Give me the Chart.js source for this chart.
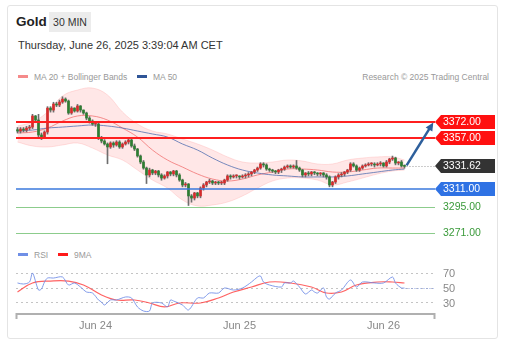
<!DOCTYPE html>
<html lang="en">
<head>
<meta charset="UTF-8">
<title>Gold | 30 MIN</title>
<script src="https://cdn.jsdelivr.net/npm/chart.js"></script>
<style>
  body { margin:0; width:509px; height:351px; background:#fff; position:relative; overflow:hidden;
         font-family:"Liberation Sans", Arial, sans-serif; }
  .card { position:absolute; left:7px; top:5px; width:489px; height:332px; border:1px solid #e4e4e4; border-radius:3px; }
  .abs { position:absolute; white-space:nowrap; }
  .title { left:16px; top:14px; font-size:13.5px; font-weight:bold; color:#222; }
  .tf { left:49px; top:12px; width:42px; height:20px; line-height:20px; text-align:center; font-size:10.5px; color:#333; background:#ececec; }
  .date { left:18px; top:39px; font-size:11px; color:#333; }
  .leg { font-size:8.5px; color:#999; line-height:11px; }
  .sw { display:inline-block; width:10px; height:3px; vertical-align:middle; margin-right:6px; position:relative; top:-1px; }
  #price { position:absolute; left:0; top:80px; }
  #rsi { position:absolute; left:0; top:258px; }
</style>
</head>
<body>
<div class="card"></div>
<div class="abs title">Gold</div>
<div class="abs tf">30 MIN</div>
<div class="abs date">Thursday, June 26, 2025 3:39:04 AM CET</div>

<div class="abs leg" style="left:18px; top:72px;"><span class="sw" style="background:#f58a8a"></span>MA 20 + Bollinger Bands</div>
<div class="abs leg" style="left:137px; top:72px;"><span class="sw" style="background:#2f5597"></span>MA 50</div>
<div class="abs leg" style="right:20px; top:72px;">Research © 2025 Trading Central</div>

<div class="abs leg" style="left:18px; top:250px;"><span class="sw" style="background:#6f8fe6"></span>RSI</div>
<div class="abs leg" style="left:58px; top:250px;"><span class="sw" style="background:#ff1a1a"></span>9MA</div>

<canvas id="price" width="509" height="165"></canvas>
<canvas id="rsi" width="509" height="80"></canvas>

<script>
// 30 min candles, index 0 = Jun 23 ~11:00, 48 candles per day
const opens = [
  3365.0, 3363.8, 3365.6, 3364.7, 3366.5, 3367.4, 3377.5, 3373.8, 3360.2, 3358.3,
  3362.9, 3384.7, 3382.9, 3388.4, 3387.5, 3390.2, 3392.9, 3391.1, 3380.2, 3384.7,
  3382.0, 3386.6, 3382.9, 3380.2, 3375.6, 3372.9, 3370.2, 3370.2, 3357.4, 3354.7,
  3352.0, 3349.3, 3352.9, 3351.1, 3353.8, 3349.3, 3352.0, 3353.8, 3355.6, 3350.2,
  3347.4, 3341.1, 3335.6, 3330.1, 3323.8, 3328.3, 3325.6, 3327.4, 3323.8, 3321.0,
  3322.9, 3326.5, 3324.7, 3327.4, 3323.8, 3319.2, 3314.7, 3315.6, 3304.7, 3302.8,
  3307.4, 3304.7, 3311.9, 3314.7, 3317.4, 3318.3, 3316.5, 3317.4, 3316.5, 3316.5,
  3319.2, 3322.9, 3322.0, 3322.9, 3322.9, 3322.0, 3322.9, 3323.8, 3324.7, 3326.5,
  3328.3, 3330.1, 3333.8, 3332.9, 3329.2, 3328.3, 3327.4, 3326.5, 3328.3, 3329.2,
  3331.0, 3332.0, 3331.0, 3332.0, 3330.1, 3328.3, 3323.8, 3325.6, 3324.7, 3326.5,
  3325.6, 3324.7, 3325.6, 3323.8, 3322.0, 3314.7, 3317.4, 3322.0, 3323.8, 3324.7,
  3326.5, 3328.3, 3333.8, 3332.0, 3328.3, 3330.1, 3332.0, 3332.9, 3333.8, 3333.8,
  3332.9, 3333.8, 3334.7, 3332.0, 3335.6, 3338.3, 3339.2, 3334.7, 3335.6, 3332.0
];
const highs = [
  3367, 3367, 3367, 3368, 3369, 3379, 3378, 3379, 3362, 3364,
  3386, 3386, 3390, 3390, 3392, 3395, 3394, 3392, 3386, 3385,
  3388, 3387, 3383, 3381, 3377, 3374, 3372, 3371, 3359, 3356,
  3353, 3354, 3354, 3355, 3355, 3353, 3355, 3357, 3357, 3352,
  3348, 3342, 3337, 3331, 3330, 3329, 3328, 3328, 3325, 3324,
  3327, 3327, 3328, 3328, 3325, 3320, 3317, 3316, 3306, 3308,
  3308, 3313, 3316, 3318, 3320, 3319, 3318, 3318, 3318, 3320,
  3324, 3324, 3324, 3324, 3323, 3324, 3325, 3326, 3327, 3329,
  3331, 3335, 3335, 3334, 3330, 3329, 3328, 3329, 3330, 3332,
  3333, 3333, 3333, 3337, 3331, 3329, 3326, 3327, 3327, 3327,
  3326, 3326, 3326, 3325, 3323, 3318, 3323, 3325, 3326, 3327,
  3329, 3335, 3335, 3333, 3331, 3333, 3334, 3335, 3335, 3335,
  3335, 3336, 3335, 3337, 3339, 3341, 3340, 3336, 3337, 3333
];
const lows = [
  3362, 3362, 3363, 3363, 3365, 3366, 3372, 3358, 3356, 3357,
  3361, 3381, 3381, 3386, 3386, 3389, 3390, 3379, 3379, 3381,
  3381, 3381, 3379, 3374, 3371, 3369, 3368, 3356, 3353, 3351,
  3334, 3348, 3349, 3350, 3348, 3348, 3351, 3352, 3349, 3346,
  3340, 3334, 3329, 3316, 3322, 3324, 3324, 3322, 3319, 3320,
  3321, 3323, 3323, 3322, 3318, 3313, 3313, 3296, 3299, 3301,
  3303, 3303, 3310, 3313, 3316, 3315, 3315, 3315, 3315, 3315,
  3318, 3320, 3321, 3321, 3320, 3321, 3321, 3322, 3323, 3325,
  3327, 3329, 3331, 3328, 3327, 3326, 3325, 3325, 3326, 3328,
  3330, 3330, 3330, 3329, 3327, 3322, 3322, 3323, 3323, 3324,
  3323, 3323, 3322, 3320, 3313, 3313, 3316, 3320, 3322, 3323,
  3325, 3327, 3331, 3327, 3327, 3329, 3331, 3332, 3332, 3331,
  3332, 3332, 3331, 3331, 3334, 3337, 3333, 3333, 3331, 3330
];
const closes = [
  3363.8, 3365.6, 3364.7, 3366.5, 3367.4, 3377.5, 3373.8, 3360.2, 3358.3, 3362.9,
  3384.7, 3382.9, 3388.4, 3387.5, 3390.2, 3392.9, 3391.1, 3380.2, 3384.7, 3382.0,
  3386.6, 3382.9, 3380.2, 3375.6, 3372.9, 3370.2, 3370.2, 3357.4, 3354.7, 3352.0,
  3349.3, 3352.9, 3351.1, 3353.8, 3349.3, 3352.0, 3353.8, 3355.6, 3350.2, 3347.4,
  3341.1, 3335.6, 3330.1, 3323.8, 3328.3, 3325.6, 3327.4, 3323.8, 3321.0, 3322.9,
  3326.5, 3324.7, 3327.4, 3323.8, 3319.2, 3314.7, 3315.6, 3304.7, 3302.8, 3307.4,
  3304.7, 3311.9, 3314.7, 3317.4, 3318.3, 3316.5, 3317.4, 3316.5, 3316.5, 3319.2,
  3322.9, 3322.0, 3322.9, 3322.9, 3322.0, 3322.9, 3323.8, 3324.7, 3326.5, 3328.3,
  3330.1, 3333.8, 3332.9, 3329.2, 3328.3, 3327.4, 3326.5, 3328.3, 3329.2, 3331.0,
  3332.0, 3331.0, 3332.0, 3330.1, 3328.3, 3323.8, 3325.6, 3324.7, 3326.5, 3325.6,
  3324.7, 3325.6, 3323.8, 3322.0, 3314.7, 3317.4, 3322.0, 3323.8, 3324.7, 3326.5,
  3328.3, 3333.8, 3332.0, 3328.3, 3330.1, 3332.0, 3332.9, 3333.8, 3333.8, 3332.9,
  3333.8, 3334.7, 3332.0, 3335.6, 3338.3, 3339.2, 3334.7, 3335.6, 3332.0, 3331.62
];

// indicators read every 5 candles
const bandIdx = [0, 5, 10, 15, 20, 25, 30, 35, 40, 45, 50, 55, 60, 65, 70, 75, 80, 85, 90, 95, 100, 105, 110, 115, 120, 125, 129];
const bbUpper = [3368.4, 3372.0, 3381.1, 3395.7, 3401.1, 3402.9, 3396.6, 3381.1, 3370.2, 3363.8, 3361.1, 3356.5, 3352.0, 3346.5,
                 3340.2, 3335.6, 3334.7, 3335.6, 3337.4, 3336.5, 3333.8, 3333.8, 3337.4, 3339.2, 3340.2, 3340.2, 3337.4];
const bbLower = [3353.8, 3350.2, 3349.3, 3351.1, 3352.9, 3348.3, 3342.0, 3337.4, 3328.3, 3319.2, 3311.9, 3301.0, 3295.6, 3296.5,
                 3299.2, 3304.7, 3311.9, 3318.3, 3321.0, 3321.0, 3319.2, 3314.7, 3317.4, 3321.0, 3324.7, 3327.4, 3328.3];
const ma20 = [3362.0, 3362.9, 3366.5, 3372.9, 3377.5, 3377.5, 3373.8, 3366.5, 3358.3, 3346.5, 3337.4, 3331.0, 3324.7, 3320.1,
              3318.3, 3320.1, 3323.8, 3326.5, 3329.2, 3329.2, 3328.3, 3326.5, 3326.5, 3328.3, 3330.1, 3330.1, 3330.1];
const ma50 = [3363.8, 3364.7, 3366.5, 3367.4, 3368.4, 3369.3, 3368.4, 3366.5, 3363.8, 3361.1, 3358.3, 3352.0, 3346.5, 3339.2,
              3332.9, 3328.3, 3325.6, 3323.8, 3322.9, 3322.0, 3322.0, 3322.0, 3322.9, 3324.7, 3326.5, 3328.3, 3329.2];

// key levels and the projected move
const levelValues = [3372, 3357, 3311, 3295, 3271];
const levelKinds = ['resistance', 'resistance', 'support', 'target', 'target'];
const arrowFrom = [129.7, 3332.5];
const arrowTo = [138.6, 3371.5];

// RSI panel
const rsiIdx = [0, 2, 4, 5, 7, 8, 9, 10, 12, 15, 17, 19, 21, 23, 25, 27, 28, 29, 31, 33,
                36, 38, 40, 42, 44, 45, 48, 50, 51, 52, 55, 57, 60, 62, 64, 67, 69, 72, 75, 78,
                80, 81, 82, 84, 88, 89, 91, 92, 94, 96, 98, 99, 100, 102, 103, 104, 106, 108, 111, 113,
                115, 119, 122, 125, 126, 128, 129];
const rsiVal = [56.7, 55.3, 58, 70, 47.3, 48.7, 58, 63.3, 63.3, 64.7, 54, 56.7, 51.3, 44.7, 43.3, 34, 31.3, 27.3, 34, 34,
                38, 36.7, 24.7, 19.3, 19.3, 30, 30, 24.7, 34, 32.7, 27.3, 20.7, 36.7, 36.7, 43.3, 43.3, 50, 47.3, 50, 58,
                64.7, 66, 58, 54, 51.3, 56.7, 56.7, 59.3, 51.3, 42, 47.3, 44.7, 43.3, 50, 38, 35.3, 43.3, 47.3, 60.7, 51.3,
                58, 56.7, 56.7, 64.7, 56.7, 50, 50];
const maIdx = [0, 5, 11, 17, 22, 28, 33, 39, 44, 49, 54, 61, 67, 72, 78, 84, 91, 98, 103, 108, 113, 120, 125, 129];
const maVal = [44.7, 56.7, 59.3, 59.3, 54, 40.7, 34, 34, 30, 24.7, 30, 30, 36.7, 44.7, 51.3, 58, 56.7, 51.3, 43.3, 44.7,
               54, 58, 58, 56.7];
const rsiTicks = [30, 50, 70];

const dayIdx = [26, 74, 122];
const dayLabels = ['Jun 24', 'Jun 25', 'Jun 26'];

const X_MIN = -0.5, X_MAX = 139.17;
const FONT = '"Liberation Sans", Arial, sans-serif';
Chart.defaults.font.family = FONT;

function pts(xs, ys) {
  return xs.map((x, i) => ({ x: x, y: ys[i] }));
}

// draws the level lines, their price tags and the forecast arrow
const levelPlugin = {
  id: 'levels',
  afterDatasetsDraw(chart) {
    const { ctx, chartArea: a, scales: { x, y } } = chart;
    ctx.save();

    function tag(py, bg, text) {
      ctx.fillStyle = bg;
      ctx.beginPath();
      ctx.moveTo(a.right, py);
      ctx.lineTo(a.right + 6, py - 7);
      ctx.lineTo(a.right + 60, py - 7);
      ctx.lineTo(a.right + 60, py + 7);
      ctx.lineTo(a.right + 6, py + 7);
      ctx.closePath();
      ctx.fill();
      ctx.fillStyle = '#fff';
      ctx.font = '10.5px ' + FONT;
      ctx.textBaseline = 'middle';
      ctx.fillText(text, a.right + 8, py + 0.5);
    }

    levelValues.forEach((v, k) => {
      const kind = levelKinds[k];
      const py = Math.round(y.getPixelForValue(v));
      ctx.beginPath();
      if (kind === 'resistance') {
        ctx.strokeStyle = '#ff1f1f';
        ctx.lineWidth = 2;
        ctx.moveTo(a.left, py); ctx.lineTo(a.right, py);
        ctx.stroke();
        tag(py, '#ff1010', v.toFixed(2));
      } else if (kind === 'support') {
        ctx.strokeStyle = '#3a78dc';
        ctx.lineWidth = 1.5;
        ctx.moveTo(a.left, py); ctx.lineTo(a.right, py);
        ctx.stroke();
        tag(py, '#2f72e4', v.toFixed(2));
      } else {
        ctx.strokeStyle = '#8ccc8c';
        ctx.lineWidth = 1;
        ctx.moveTo(a.left, py + 0.5); ctx.lineTo(a.right, py + 0.5);
        ctx.stroke();
        ctx.fillStyle = '#3a9a3a';
        ctx.font = '10.5px ' + FONT;
        ctx.textBaseline = 'middle';
        ctx.fillText(v.toFixed(2), a.right + 8, py + 0.5);
      }
    });

    // last price
    const last = closes[closes.length - 1];
    const ly = Math.round(y.getPixelForValue(last)) + 0.5;
    ctx.strokeStyle = '#9a9a9a';
    ctx.lineWidth = 1;
    ctx.setLineDash([1, 2]);
    ctx.beginPath();
    ctx.moveTo(x.getPixelForValue(closes.length - 1) + 2, ly);
    ctx.lineTo(a.right, ly);
    ctx.stroke();
    ctx.setLineDash([]);
    tag(ly - 0.5, '#333333', last.toFixed(2));

    // forecast arrow
    const x0 = x.getPixelForValue(arrowFrom[0]), y0 = y.getPixelForValue(arrowFrom[1]);
    const x1 = x.getPixelForValue(arrowTo[0]), y1 = y.getPixelForValue(arrowTo[1]);
    const ang = Math.atan2(y1 - y0, x1 - x0);
    const head = 9;
    ctx.strokeStyle = '#2d5f9c';
    ctx.fillStyle = '#2d5f9c';
    ctx.lineWidth = 2.5;
    ctx.beginPath();
    ctx.moveTo(x0, y0);
    ctx.lineTo(x1 - Math.cos(ang) * head * 0.8, y1 - Math.sin(ang) * head * 0.8);
    ctx.stroke();
    ctx.beginPath();
    ctx.moveTo(x1, y1);
    ctx.lineTo(x1 - head * Math.cos(ang - 0.45), y1 - head * Math.sin(ang - 0.45));
    ctx.lineTo(x1 - head * Math.cos(ang + 0.45), y1 - head * Math.sin(ang + 0.45));
    ctx.closePath();
    ctx.fill();
    ctx.restore();
  }
};

const priceChart = new Chart(document.getElementById('price'), {
  type: 'bar',
  data: {
    datasets: [
      { type: 'line', data: pts(bandIdx, bbUpper), borderColor: 'rgba(255,170,170,0.35)', borderWidth: 1,
        backgroundColor: 'rgba(255,175,175,0.3)', fill: '+1', pointRadius: 0, tension: 0.4, order: 6 },
      { type: 'line', data: pts(bandIdx, bbLower), borderColor: 'rgba(255,170,170,0.35)', borderWidth: 1,
        fill: false, pointRadius: 0, tension: 0.4, order: 5 },
      { type: 'line', data: pts(bandIdx, ma20), borderColor: 'rgba(240,100,100,0.7)', borderWidth: 1,
        pointRadius: 0, tension: 0.4, order: 4 },
      { type: 'line', data: pts(bandIdx, ma50), borderColor: 'rgba(60,95,170,0.7)', borderWidth: 1,
        pointRadius: 0, tension: 0.4, order: 3 },
      { data: closes.map((c, i) => ({ x: i, y: [lows[i], highs[i]] })), backgroundColor: '#6e6e6e',
        barThickness: 1, grouped: false, order: 2 },
      { data: closes.map((c, i) => ({ x: i, y: [opens[i], c] })),
        backgroundColor: closes.map((c, i) => c >= opens[i] ? '#d62b2b' : '#2e7d32'),
        barThickness: 2, minBarLength: 1, grouped: false, order: 1 }
    ]
  },
  options: {
    responsive: false,
    animation: false,
    events: [],
    layout: { padding: { left: 16, right: 74, top: 5, bottom: 5 } },
    plugins: { legend: { display: false }, tooltip: { enabled: false } },
    scales: {
      x: { type: 'linear', min: X_MIN, max: X_MAX, offset: false, display: false },
      y: { min: 3264.6, max: 3405.7, display: false }
    }
  },
  plugins: [levelPlugin]
});

// bracket-style time axis, RSI level labels, dotted extension of the last RSI value
const rsiAxisPlugin = {
  id: 'rsiAxis',
  afterDatasetsDraw(chart) {
    const { ctx, chartArea: a, scales: { x, y } } = chart;
    ctx.save();
    ctx.strokeStyle = '#b0b0b0';
    ctx.lineWidth = 2;
    ctx.beginPath();
    ctx.moveTo(a.left + 0.5, a.bottom + 5);
    ctx.lineTo(a.left + 0.5, a.bottom);
    ctx.lineTo(a.right - 0.5, a.bottom);
    ctx.lineTo(a.right - 0.5, a.bottom + 5);
    ctx.stroke();

    ctx.fillStyle = '#888';
    ctx.font = '11px ' + FONT;
    ctx.textBaseline = 'middle';
    rsiTicks.forEach(v => ctx.fillText(String(v), a.right + 8, y.getPixelForValue(v) + 0.5));

    const lastI = rsiIdx[rsiIdx.length - 1];
    const ly = Math.round(y.getPixelForValue(rsiVal[rsiVal.length - 1])) + 0.5;
    ctx.strokeStyle = 'rgba(110,140,230,0.8)';
    ctx.lineWidth = 1;
    ctx.setLineDash([1, 2]);
    ctx.beginPath();
    ctx.moveTo(x.getPixelForValue(lastI) + 1, ly);
    ctx.lineTo(a.right, ly);
    ctx.stroke();
    ctx.restore();
  }
};

const rsiChart = new Chart(document.getElementById('rsi'), {
  type: 'line',
  data: {
    datasets: [
      { data: pts(rsiIdx, rsiVal), borderColor: 'rgba(110,140,230,0.85)', borderWidth: 1,
        pointRadius: 0, tension: 0.3 },
      { data: pts(maIdx, maVal), borderColor: 'rgba(255,60,60,0.8)', borderWidth: 1.2,
        pointRadius: 0, tension: 0.4 }
    ]
  },
  options: {
    responsive: false,
    animation: false,
    events: [],
    layout: { padding: { left: 16, right: 34, top: 4, bottom: 0 } },
    plugins: { legend: { display: false }, tooltip: { enabled: false } },
    scales: {
      x: {
        type: 'linear', min: X_MIN, max: X_MAX, offset: false,
        afterBuildTicks: s => { s.ticks = dayIdx.map(v => ({ value: v })); },
        afterFit: s => { s.height = 24; },
        grid: { display: false, drawTicks: false },
        border: { display: false },
        ticks: { color: '#888', font: { size: 11 }, padding: 5, maxRotation: 0, autoSkip: false,
                 callback: v => dayLabels[dayIdx.indexOf(v)] }
      },
      y: {
        position: 'right', min: 15.3, max: 84.7,
        afterBuildTicks: s => { s.ticks = rsiTicks.map(v => ({ value: v })); },
        afterFit: s => { s.width = 40; },
        grid: { color: '#c4c4c4', drawTicks: false },
        border: { display: false, dash: [2, 3] },
        ticks: { display: false }
      }
    }
  },
  plugins: [rsiAxisPlugin]
});
</script>
</body>
</html>
